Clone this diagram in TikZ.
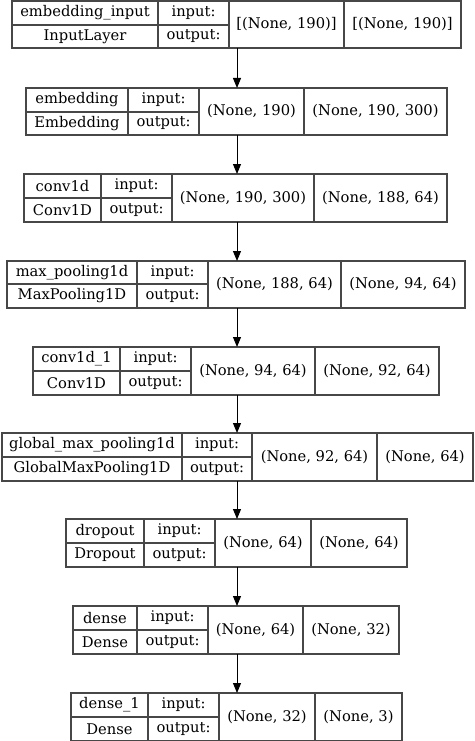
\documentclass[tikz,border=0pt]{standalone}
\usepackage{fontspec}
\setmainfont{DejaVu Serif}
\usetikzlibrary{arrows.meta}
\begin{document}
\begin{tikzpicture}[x=1pt,y=-1pt,
  cell/.style={draw=black!72, line width=1.1pt, inner sep=0pt, outer sep=0pt, font=\fontsize{14.7}{16}\selectfont, anchor=center},
  outline/.style={inner sep=0pt, outer sep=0pt, anchor=center},
  flow/.style={draw=black, line width=1pt, -{Triangle[length=10pt,width=8pt]}}]
\useasboundingbox (0,0) rectangle (474,741);
\coordinate (ax) at (237,0);
\foreach \i/\l/\ca/\cb/\cc/\r/\t/\m/\b/\na/\nb/\si/\so in {
1/12/158/229/344/461/1/25/48/embedding\_input/InputLayer/{[(None, 190)]}/{[(None, 190)]},
2/26/128/199/304/447/88/112/135/embedding/Embedding/{(None, 190)}/{(None, 190, 300)},
3/24/101/172/314/447/174/198/222/conv1d/Conv1D/{(None, 190, 300)}/{(None, 188, 64)},
4/7/137/208/341/465/261/284/308/max\_pooling1d/MaxPooling1D/{(None, 188, 64)}/{(None, 94, 64)},
5/33/120/191/315/439/347/371/395/conv1d\_1/Conv1D/{(None, 94, 64)}/{(None, 92, 64)},
6/2/182/252/377/473/433/457/481/global\_max\_pooling1d/GlobalMaxPooling1D/{(None, 92, 64)}/{(None, 64)},
7/66/144/215/311/407/519/543/567/dropout/Dropout/{(None, 64)}/{(None, 64)},
8/73/137/208/303/399/606/630/654/dense/Dense/{(None, 64)}/{(None, 32)},
9/71/148/219/315/402/693/717/741/dense\_1/Dense/{(None, 32)}/{(None, 3)}}{
  \pgfmathsetmacro\cwA{\ca-\l}
  \pgfmathsetmacro\cwB{\cb-\ca}
  \pgfmathsetmacro\cwC{\cc-\cb}
  \pgfmathsetmacro\cwD{\r-\cc}
  \pgfmathsetmacro\chU{\m-\t}
  \pgfmathsetmacro\chL{\b-\m}
  \pgfmathsetmacro\chH{\b-\t}
  \pgfmathsetmacro\cwW{\r-\l}
  \node[outline, minimum width=\cwW pt, minimum height=\chH pt] (box\i) at ({(\l+\r)/2},{(\t+\b)/2}) {};
  \node[cell, minimum width=\cwA pt, minimum height=\chU pt] (name\i) at ({(\l+\ca)/2},{(\t+\m)/2}) {\na};
  \node[cell, minimum width=\cwA pt, minimum height=\chL pt] (class\i) at ({(\l+\ca)/2},{(\m+\b)/2}) {\nb};
  \node[cell, minimum width=\cwB pt, minimum height=\chU pt] (inl\i) at ({(\ca+\cb)/2},{(\t+\m)/2}) {input:};
  \node[cell, minimum width=\cwB pt, minimum height=\chL pt] (outl\i) at ({(\ca+\cb)/2},{(\m+\b)/2}) {output:};
  \node[cell, minimum width=\cwC pt, minimum height=\chH pt] (ins\i) at ({(\cb+\cc)/2},{(\t+\b)/2}) {\si};
  \node[cell, minimum width=\cwD pt, minimum height=\chH pt] (outs\i) at ({(\cc+\r)/2},{(\t+\b)/2}) {\so};
}
\foreach \i in {1,...,8}{
  \pgfmathtruncatemacro\j{\i+1}
  \draw[flow] (box\i.south -| ax) -- (box\j.north -| ax);
}
\end{tikzpicture}
\end{document}
